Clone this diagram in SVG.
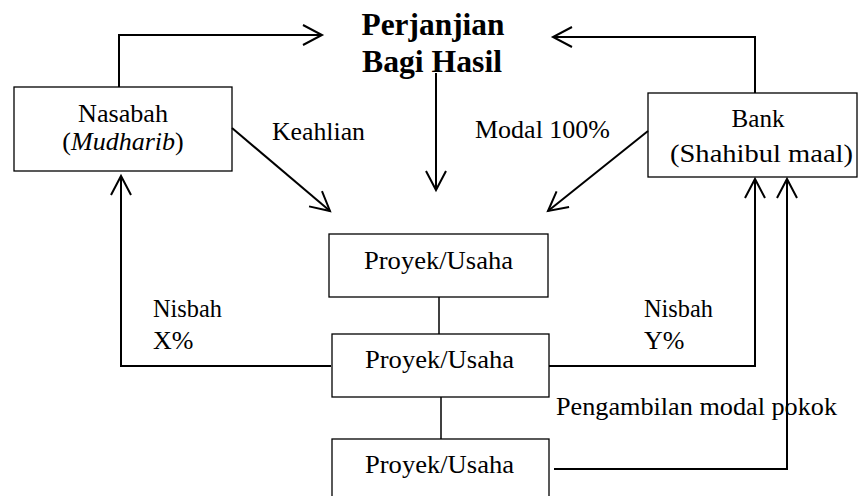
<svg xmlns="http://www.w3.org/2000/svg" width="860" height="496" viewBox="0 0 860 496" font-family="Liberation Serif, DejaVu Serif, serif">
<style>
text{font-size:26px;fill:#000}
.t{font-weight:bold;font-size:31px}
.box{fill:#fff;stroke:#000;stroke-width:1.3}
.c{fill:none;stroke:#000;stroke-width:2}
.thin{fill:none;stroke:#000;stroke-width:1.5}
.mid{text-anchor:middle}
</style>
<defs>
<marker id="arr" markerUnits="userSpaceOnUse" markerWidth="26" markerHeight="26" refX="20" refY="11" orient="auto">
<path d="M1,1 L20,11 L1,21" fill="none" stroke="#000" stroke-width="2"/>
</marker>
</defs>
<rect width="860" height="496" fill="#fff"/>
<g id="title">
<text class="t mid" x="433" y="35" textLength="143" lengthAdjust="spacingAndGlyphs">Perjanjian</text>
<text class="t mid" x="432" y="72" textLength="140" lengthAdjust="spacingAndGlyphs">Bagi Hasil</text>
</g>
<g id="nasabah">
<rect class="box" x="14" y="87" width="218" height="84"/>
<text class="mid" x="123" y="122" textLength="90" lengthAdjust="spacingAndGlyphs">Nasabah</text>
<text class="mid" x="123" y="150">(<tspan font-style="italic">Mudharib</tspan>)</text>
</g>
<g id="bank">
<rect class="box" x="648" y="93" width="209" height="84"/>
<text class="mid" x="758" y="127" textLength="53" lengthAdjust="spacingAndGlyphs">Bank</text>
<text x="670" y="162" textLength="183" lengthAdjust="spacingAndGlyphs">(Shahibul maal)</text>
</g>
<g id="proyek1">
<rect class="box" x="329" y="234" width="219" height="63"/>
<text x="364" y="269" textLength="149" lengthAdjust="spacingAndGlyphs">Proyek/Usaha</text>
</g>
<g id="proyek2">
<rect class="box" x="332" y="334" width="217" height="63"/>
<text x="365" y="368" textLength="149" lengthAdjust="spacingAndGlyphs">Proyek/Usaha</text>
</g>
<g id="proyek3">
<rect class="box" x="332" y="439" width="217" height="70"/>
<text x="365" y="473" textLength="149" lengthAdjust="spacingAndGlyphs">Proyek/Usaha</text>
</g>
<g id="labels">
<text x="272" y="140" textLength="93" lengthAdjust="spacingAndGlyphs">Keahlian</text>
<text x="475" y="138" textLength="135" lengthAdjust="spacingAndGlyphs">Modal 100%</text>
<text x="153" y="317" textLength="69" lengthAdjust="spacingAndGlyphs">Nisbah</text>
<text x="153" y="349">X%</text>
<text x="644" y="317" textLength="69" lengthAdjust="spacingAndGlyphs">Nisbah</text>
<text x="644" y="349">Y%</text>
<text x="556" y="415" textLength="281" lengthAdjust="spacingAndGlyphs">Pengambilan modal pokok</text>
</g>
<g id="connectors">
<path class="c" d="M119,87 V35 H322" marker-end="url(#arr)"/>
<path class="c" d="M755,93 V37 H553" marker-end="url(#arr)"/>
<path class="c" d="M436,73 V190" marker-end="url(#arr)"/>
<path class="c" d="M232,128 L330,211" marker-end="url(#arr)"/>
<path class="c" d="M648,131 L548,211" marker-end="url(#arr)"/>
<path class="c" d="M331,366 H121 V176" marker-end="url(#arr)"/>
<path class="c" d="M549,366 H755 V179" marker-end="url(#arr)"/>
<path class="c" d="M554,469 H787 V179" marker-end="url(#arr)"/>
<path class="thin" d="M439,297 V334"/>
<path class="thin" d="M441,397 V439"/>
</g>
</svg>
